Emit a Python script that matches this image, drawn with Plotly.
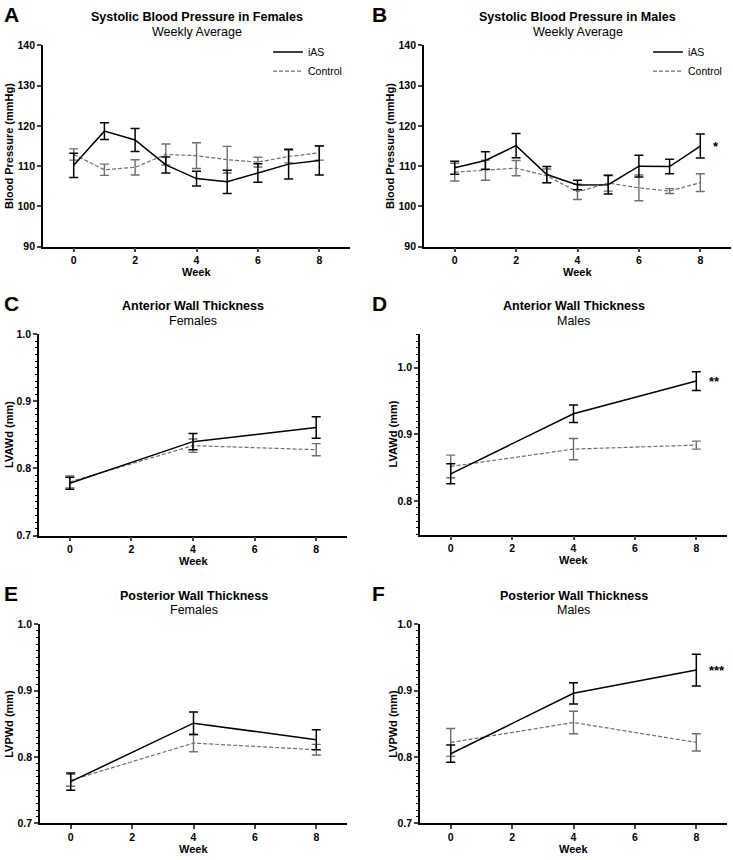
import plotly.graph_objects as go

W, H = 733, 860
FONT = "Liberation Sans, Arial, sans-serif"
GREY = "#6e6e6e"

# ---------------- data ----------------
weeks_bp = [0, 1, 2, 3, 4, 5, 6, 7, 8]
weeks_echo = [0, 4, 8]

A_ias = [110.2, 118.7, 116.5, 110.3, 106.9, 106.1, 108.3, 110.5, 111.4]
A_ias_err = [3.0, 2.1, 2.85, 2.0, 1.85, 2.9, 2.3, 3.7, 3.6]
A_ctl = [112.9, 109.1, 109.7, 112.9, 112.6, 111.6, 111.0, 112.4, 113.3]
A_ctl_err = [1.4, 1.4, 1.9, 2.6, 3.2, 3.3, 1.2, 1.6, 1.8]

B_ias = [109.6, 111.4, 115.1, 107.9, 105.3, 105.4, 110.0, 109.9, 115.0]
B_ias_err = [1.6, 2.2, 3.0, 2.0, 1.2, 2.3, 2.7, 1.8, 3.0]
B_ctl = [108.5, 109.0, 109.5, 107.6, 103.6, 105.8, 104.6, 103.8, 105.9]
B_ctl_err = [2.2, 2.5, 1.9, 1.7, 1.9, 2.0, 3.2, 0.6, 2.2]

C_ias = [0.778, 0.840, 0.861]
C_ias_err = [0.009, 0.012, 0.016]
C_ctl = [0.780, 0.834, 0.828]
C_ctl_err = [0.009, 0.010, 0.009]

D_ias = [0.841, 0.931, 0.980]
D_ias_err = [0.015, 0.013, 0.014]
D_ctl = [0.852, 0.878, 0.884]
D_ctl_err = [0.017, 0.016, 0.006]

E_ias = [0.763, 0.851, 0.826]
E_ias_err = [0.013, 0.017, 0.015]
E_ctl = [0.765, 0.821, 0.811]
E_ctl_err = [0.009, 0.013, 0.008]

F_ias = [0.805, 0.896, 0.931]
F_ias_err = [0.013, 0.016, 0.024]
F_ctl = [0.822, 0.852, 0.822]
F_ctl_err = [0.021, 0.017, 0.013]

series_labels = ["iAS", "Control"]
x_ticks = [0, 2, 4, 6, 8]

panels = [
    dict(letter="A", title="Systolic Blood Pressure in Females", sub="Weekly Average",
         ytitle="Blood Pressure (mmHg)", x=weeks_bp, ias=A_ias, ie=A_ias_err, ctl=A_ctl, ce=A_ctl_err,
         yr=[90, 140], dtick=10, tick0=90, minor=None, stars=None, box=(43, 350, 40, 244), legend="legend"),
    dict(letter="B", title="Systolic Blood Pressure in Males", sub="Weekly Average",
         ytitle="Blood Pressure (mmHg)", x=weeks_bp, ias=B_ias, ie=B_ias_err, ctl=B_ctl, ce=B_ctl_err,
         yr=[90, 140], dtick=10, tick0=90, minor=None, stars="*", box=(424, 731, 40, 244), legend="legend2"),
    dict(letter="C", title="Anterior Wall Thickness", sub="Females",
         ytitle="LVAWd (mm)", x=weeks_echo, ias=C_ias, ie=C_ias_err, ctl=C_ctl, ce=C_ctl_err,
         yr=[0.7, 1.0], dtick=0.1, tick0=0.7, minor=0.01, stars=None, box=(39, 347, 333, 537), legend=None),
    dict(letter="D", title="Anterior Wall Thickness", sub="Males",
         ytitle="LVAWd (mm)", x=weeks_echo, ias=D_ias, ie=D_ias_err, ctl=D_ctl, ce=D_ctl_err,
         yr=[0.75, 1.05], dtick=0.1, tick0=0.8, minor=0.01, stars="**", box=(420, 727, 333, 536), legend=None),
    dict(letter="E", title="Posterior Wall Thickness", sub="Females",
         ytitle="LVPWd (mm)", x=weeks_echo, ias=E_ias, ie=E_ias_err, ctl=E_ctl, ce=E_ctl_err,
         yr=[0.7, 1.0], dtick=0.1, tick0=0.7, minor=0.01, stars=None, box=(40, 347, 627, 829), legend=None),
    dict(letter="F", title="Posterior Wall Thickness", sub="Males",
         ytitle="LVPWd (mm)", x=weeks_echo, ias=F_ias, ie=F_ias_err, ctl=F_ctl, ce=F_ctl_err,
         yr=[0.7, 1.0], dtick=0.1, tick0=0.7, minor=0.01, stars="***", box=(420, 727, 627, 829), legend=None),
]

fig = go.Figure()
layout = {}
annotations = []


def fx(px):
    return px / W


def fy(py):
    return 1 - py / H


for i, p in enumerate(panels):
    n = "" if i == 0 else str(i + 1)
    xa, ya = "x" + n, "y" + n
    x0, x1, y0, y1 = p["box"]
    show = p["legend"] is not None
    fig.add_trace(go.Scatter(
        x=p["x"], y=p["ctl"], name=series_labels[1], mode="lines",
        line=dict(color=GREY, width=1.2, dash="4px,2px"),
        error_y=dict(type="data", array=p["ce"], color=GREY, thickness=1.4, width=4.5),
        xaxis=xa, yaxis=ya, showlegend=show, legend=p["legend"] if show else None,
        legendrank=2,
    ))
    fig.add_trace(go.Scatter(
        x=p["x"], y=p["ias"], name=series_labels[0], mode="lines",
        line=dict(color="black", width=1.5),
        error_y=dict(type="data", array=p["ie"], color="black", thickness=1.5, width=4.5),
        xaxis=xa, yaxis=ya, showlegend=show, legend=p["legend"] if show else None,
        legendrank=1,
    ))
    xaxis = dict(domain=[fx(x0), fx(x1)], range=[-1, 9], anchor=ya,
                 tickvals=x_ticks, ticks="outside", ticklen=4, tickwidth=1.5,
                 showline=True, linecolor="black", linewidth=1.8, showgrid=False, zeroline=False,
                 ticklabelstandoff=-1,
                 tickfont=dict(family=FONT, size=10.5, color="black", weight="bold"), fixedrange=True)
    yaxis = dict(domain=[fy(y1), fy(y0)], range=p["yr"], anchor=xa,
                 tick0=p["tick0"], dtick=p["dtick"], ticks="outside", ticklen=4, tickwidth=1.5,
                 showline=True, linecolor="black", linewidth=1.8, showgrid=False, zeroline=False,
                 tickformat=".1f" if p["dtick"] < 1 else "d",
                 tickfont=dict(family=FONT, size=10.5, color="black", weight="bold"), fixedrange=True)
    if p["minor"]:
        yaxis["minor"] = dict(dtick=p["minor"], tick0=0.7, ticks="outside", ticklen=2.5,
                              tickwidth=1, tickcolor="black", showgrid=False)
    layout["xaxis" + n] = xaxis
    layout["yaxis" + n] = yaxis

    cx = (x0 + x1) / 2
    annotations.append(dict(x=fx(cx), y=fy(y0 - 29), xref="paper", yref="paper", text="<b>" + p["title"] + "</b>",
                            showarrow=False, font=dict(family=FONT, size=12.5, color="black"),
                            xanchor="center", yanchor="middle"))
    annotations.append(dict(x=fx(cx), y=fy(y0 - 14), xref="paper", yref="paper", text=p["sub"],
                            showarrow=False, font=dict(family=FONT, size=12.5, color="black"),
                            xanchor="center", yanchor="middle"))
    lx = 2 if x0 < 200 else 370
    annotations.append(dict(x=fx(lx), y=fy(y0 - 31), xref="paper", yref="paper", text="<b>" + p["letter"] + "</b>",
                            showarrow=False, font=dict(family=FONT, size=21, color="black"),
                            xanchor="left", yanchor="middle"))
    annotations.append(dict(x=fx(cx), y=fy(y1 + 26), xref="paper", yref="paper", text="<b>Week</b>",
                            showarrow=False, font=dict(family=FONT, size=11, color="black"),
                            xanchor="center", yanchor="middle"))
    ytx = 9 if x0 < 200 else (390 if i == 1 else 393)
    annotations.append(dict(x=fx(ytx), y=fy((y0 + y1) / 2), xref="paper", yref="paper", text="<b>" + p["ytitle"] + "</b>",
                            showarrow=False, textangle=-90, font=dict(family=FONT, size=11, color="black"),
                            xanchor="center", yanchor="middle"))
    if p["stars"]:
        annotations.append(dict(x=8.35, y=p["ias"][-1], xref=xa, yref=ya, text="<b>" + p["stars"] + "</b>",
                                showarrow=False, font=dict(family=FONT, size=13, color="black"),
                                xanchor="left", yanchor="middle"))

legend_common = dict(font=dict(family=FONT, size=10.5, color="black"), bgcolor="rgba(0,0,0,0)",
                     itemwidth=30, tracegroupgap=0, xanchor="left", yanchor="top", traceorder="normal")
layout["legend"] = dict(x=fx(268), y=fy(32), **legend_common)
layout["legend2"] = dict(x=fx(648), y=fy(32), **legend_common)

fig.update_layout(
    width=W, height=H, margin=dict(l=0, r=0, t=0, b=0),
    paper_bgcolor="white", plot_bgcolor="white",
    annotations=annotations, **layout,
)

fig.write_html("out.html", config={"displayModeBar": False},
               post_script="document.body.style.margin='0';document.body.style.overflow='hidden';")
